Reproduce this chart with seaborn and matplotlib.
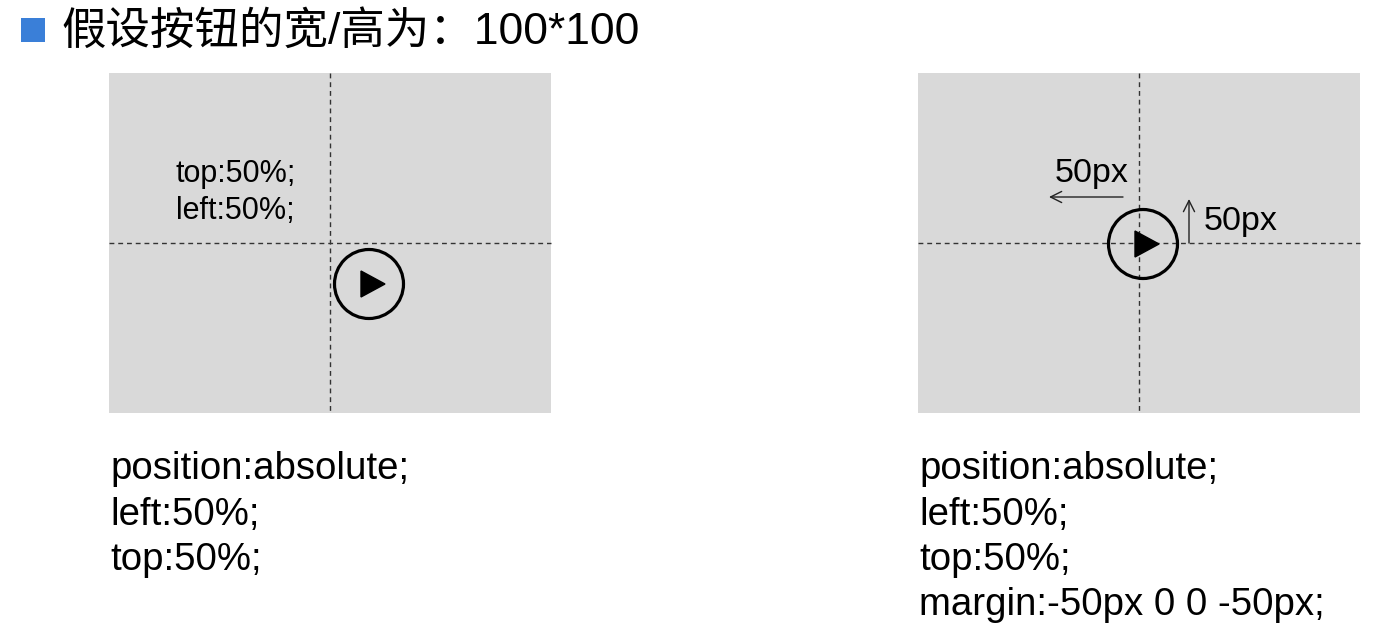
import matplotlib
matplotlib.use("Agg")
import matplotlib.pyplot as plt
import matplotlib.patches as mpatches
import seaborn as sns

# ---- content ----
title_text = "假设按钮的宽/高为：100*100"
inner_note_lines = ["top:50%;", "left:50%;"]
left_code_lines = ["position:absolute;", "left:50%;", "top:50%;"]
right_code_lines = ["position:absolute;", "left:50%;", "top:50%;", "margin:-50px 0 0 -50px;"]
offset_labels = ["50px", "50px"]

sns.set_style("white")
plt.rcParams["font.family"] = ["Liberation Sans", "Noto Sans CJK SC", "DejaVu Sans"]

W, H = 1381, 633
fig = plt.figure(figsize=(W / 100, H / 100), dpi=100)
ax = fig.add_axes([0, 0, 1, 1])
ax.set_xlim(0, W)
ax.set_ylim(H, 0)
ax.axis("off")

PANEL = "#d9d9d9"
INK = "#000000"
DASH = "#333333"

# title
ax.add_patch(mpatches.Rectangle((21, 18), 24, 24, facecolor="#3a7fd8", edgecolor="none"))
ax.text(61, 44, title_text, fontsize=32, va="baseline", ha="left", color=INK,
        family=["Liberation Sans", "Noto Sans CJK SC"])


def panel(x0, y0, w, h):
    ax.add_patch(mpatches.Rectangle((x0, y0), w, h, facecolor=PANEL, edgecolor="none", zorder=1))
    cx, cy = x0 + w / 2, y0 + h / 2
    ax.plot([x0, x0 + w], [cy, cy], color=DASH, lw=1.0, ls=(0, (3.5, 2.8)), zorder=2)
    ax.plot([cx, cx], [y0, y0 + h], color=DASH, lw=1.0, ls=(0, (3.5, 2.8)), zorder=2)
    return cx, cy


def button(cx, cy):
    ax.add_patch(mpatches.Circle((cx, cy), 34.5, facecolor="none", edgecolor=INK, lw=2.3, zorder=4))
    tri = [(cx - 8, cy - 13), (cx - 8, cy + 13), (cx + 16, cy)]
    ax.add_patch(mpatches.Polygon(tri, closed=True, facecolor=INK, edgecolor=INK, lw=1, zorder=4))


# left panel
lcx, lcy = panel(109, 73, 442, 340)
button(lcx + 39, lcy + 41)
ax.text(176, 182, inner_note_lines[0], fontsize=22, va="baseline", ha="left", color=INK)
ax.text(176, 219, inner_note_lines[1], fontsize=22, va="baseline", ha="left", color=INK)

# right panel
rcx, rcy = panel(918, 73, 442, 340)
button(rcx + 4, rcy + 1)
ax.annotate("", xy=(1049, 197), xytext=(1123, 197),
            arrowprops=dict(arrowstyle="->", color="#222222", lw=1.0, mutation_scale=20,
                            shrinkA=0, shrinkB=0), zorder=5)
ax.annotate("", xy=(1189, 199), xytext=(1189, 243),
            arrowprops=dict(arrowstyle="->", color="#222222", lw=1.0, mutation_scale=20,
                            shrinkA=0, shrinkB=0), zorder=5)
ax.text(1055, 182, offset_labels[0], fontsize=24.5, va="baseline", ha="left", color=INK)
ax.text(1204, 230, offset_labels[1], fontsize=24.5, va="baseline", ha="left", color=INK)

# code text
base = [479, 525, 570, 615]
for i, line in enumerate(left_code_lines):
    ax.text(110, base[i], line, fontsize=27.6, va="baseline", ha="left", color=INK)
for i, line in enumerate(right_code_lines):
    ax.text(919, base[i], line, fontsize=27.6, va="baseline", ha="left", color=INK)

fig.savefig("out.png", dpi=100, facecolor="white")
